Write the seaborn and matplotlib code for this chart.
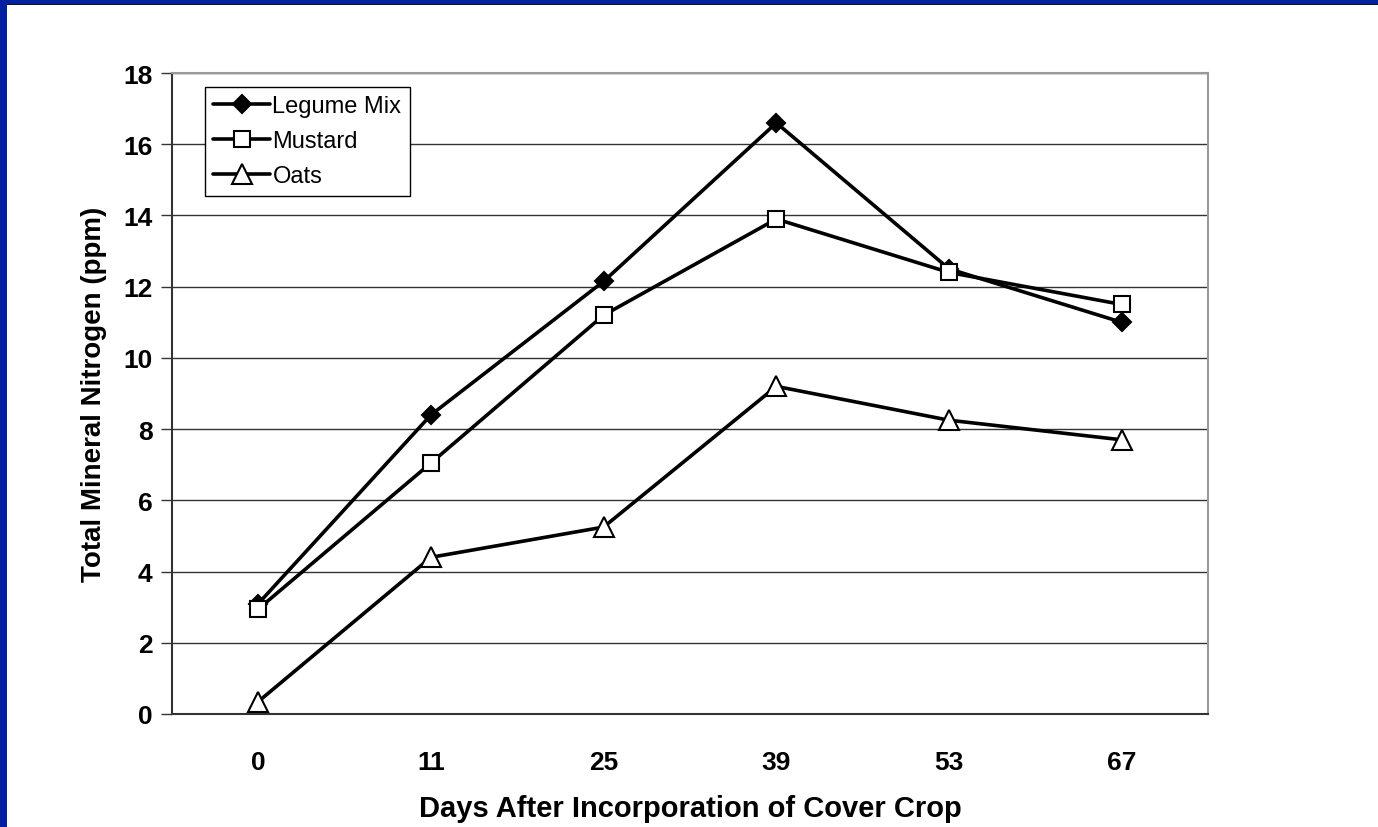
#!/usr/bin/env python3
# -*- coding: utf-8 -*-
"""
plot.py

Total mineral nitrogen after incorporation of cover crops
"""

import matplotlib

matplotlib.use("Agg")
import matplotlib.pyplot as plt
import pandas as pd
import seaborn as sns
from matplotlib.patches import Rectangle

days = ["0", "11", "25", "39", "53", "67"]
legume_mix = [3.1, 8.4, 12.15, 16.6, 12.5, 11.0]
mustard = [2.95, 7.05, 11.2, 13.9, 12.4, 11.5]
oats = [0.35, 4.4, 5.25, 9.2, 8.25, 7.7]

series = {"Legume Mix": legume_mix, "Mustard": mustard, "Oats": oats}
marker_styles = {
    "Legume Mix": dict(marker="D", markersize=9, markerfacecolor="black"),
    "Mustard": dict(marker="s", markersize=12, markerfacecolor="white"),
    "Oats": dict(marker="^", markersize=14, markerfacecolor="white"),
}

sns.set_theme(style="white")
plt.rcParams["font.family"] = ["Liberation Sans", "DejaVu Sans"]
plt.rcParams["text.color"] = "black"
plt.rcParams["axes.labelcolor"] = "black"
plt.rcParams["xtick.color"] = "black"
plt.rcParams["ytick.color"] = "black"

fig = plt.figure(figsize=(13.78, 8.28), dpi=100)
ax = fig.add_axes([172 / 1378, 1 - 715 / 828, 1036 / 1378, 641 / 828])

# Slide frame: blue strip on top and left
fig.patches.append(Rectangle((0, 1 - 5 / 828), 1, 5 / 828, transform=fig.transFigure,
                             facecolor="#0020a0", edgecolor="none", zorder=0))
fig.patches.append(Rectangle((0, 1 - 6 / 828), 1, 1.5 / 828, transform=fig.transFigure,
                             facecolor="#111133", edgecolor="none", zorder=0))
fig.patches.append(Rectangle((0, 0), 7 / 1378, 1, transform=fig.transFigure,
                             facecolor="#0020a0", edgecolor="none", zorder=0))

for name, values in series.items():
    df = pd.DataFrame({"pos": range(len(days)), "value": values})
    sns.lineplot(
        data=df,
        x="pos",
        y="value",
        ax=ax,
        color="black",
        linewidth=2.6,
        markeredgecolor="black",
        markeredgewidth=1.5,
        label=name,
        **marker_styles[name],
    )

ax.set_xlim(-0.5, len(days) - 0.5)
ax.set_ylim(0, 18)
ax.set_yticks(range(0, 19, 2))
ax.set_xticks(range(len(days)))
ax.set_xticklabels(days)
ax.set_xticks([i - 0.5 for i in range(len(days) + 1)], minor=True)
ax.tick_params(axis="x", which="major", length=0, pad=26, labelsize=19)
ax.tick_params(axis="x", which="minor", length=8, width=1, color="#333333", direction="out")
ax.tick_params(axis="y", length=8, width=1, color="#333333", direction="out", pad=6,
               labelsize=19, left=True, labelcolor="black")
ax.tick_params(axis="x", labelcolor="black")
for lab in ax.get_xticklabels() + ax.get_yticklabels():
    lab.set_fontweight("bold")

ax.grid(axis="y", color="#333333", linewidth=1)
ax.set_axisbelow(True)
for side in ["left", "bottom"]:
    ax.spines[side].set_color("#333333")
    ax.spines[side].set_linewidth(1.5)
for side in ["top", "right"]:
    ax.spines[side].set_visible(True)
    ax.spines[side].set_color("#999999")
    ax.spines[side].set_linewidth(1.5)

ax.set_xlabel("Days After Incorporation of Cover Crop", fontsize=21, fontweight="bold",
              labelpad=14)
ax.set_ylabel("Total Mineral Nitrogen (ppm)", fontsize=20, fontweight="bold", labelpad=12)

leg = ax.legend(
    loc="upper left",
    bbox_to_anchor=(0.032, 0.978),
    frameon=True,
    fancybox=False,
    framealpha=1,
    edgecolor="black",
    fontsize=17,
    handlelength=2.4,
    handletextpad=0.1,
    borderpad=0.35,
    labelspacing=0.55,
    borderaxespad=0,
)
leg.get_frame().set_linewidth(1)
for text in leg.get_texts():
    text.set_color("black")

fig.savefig("out.png", dpi=100, facecolor="white")
